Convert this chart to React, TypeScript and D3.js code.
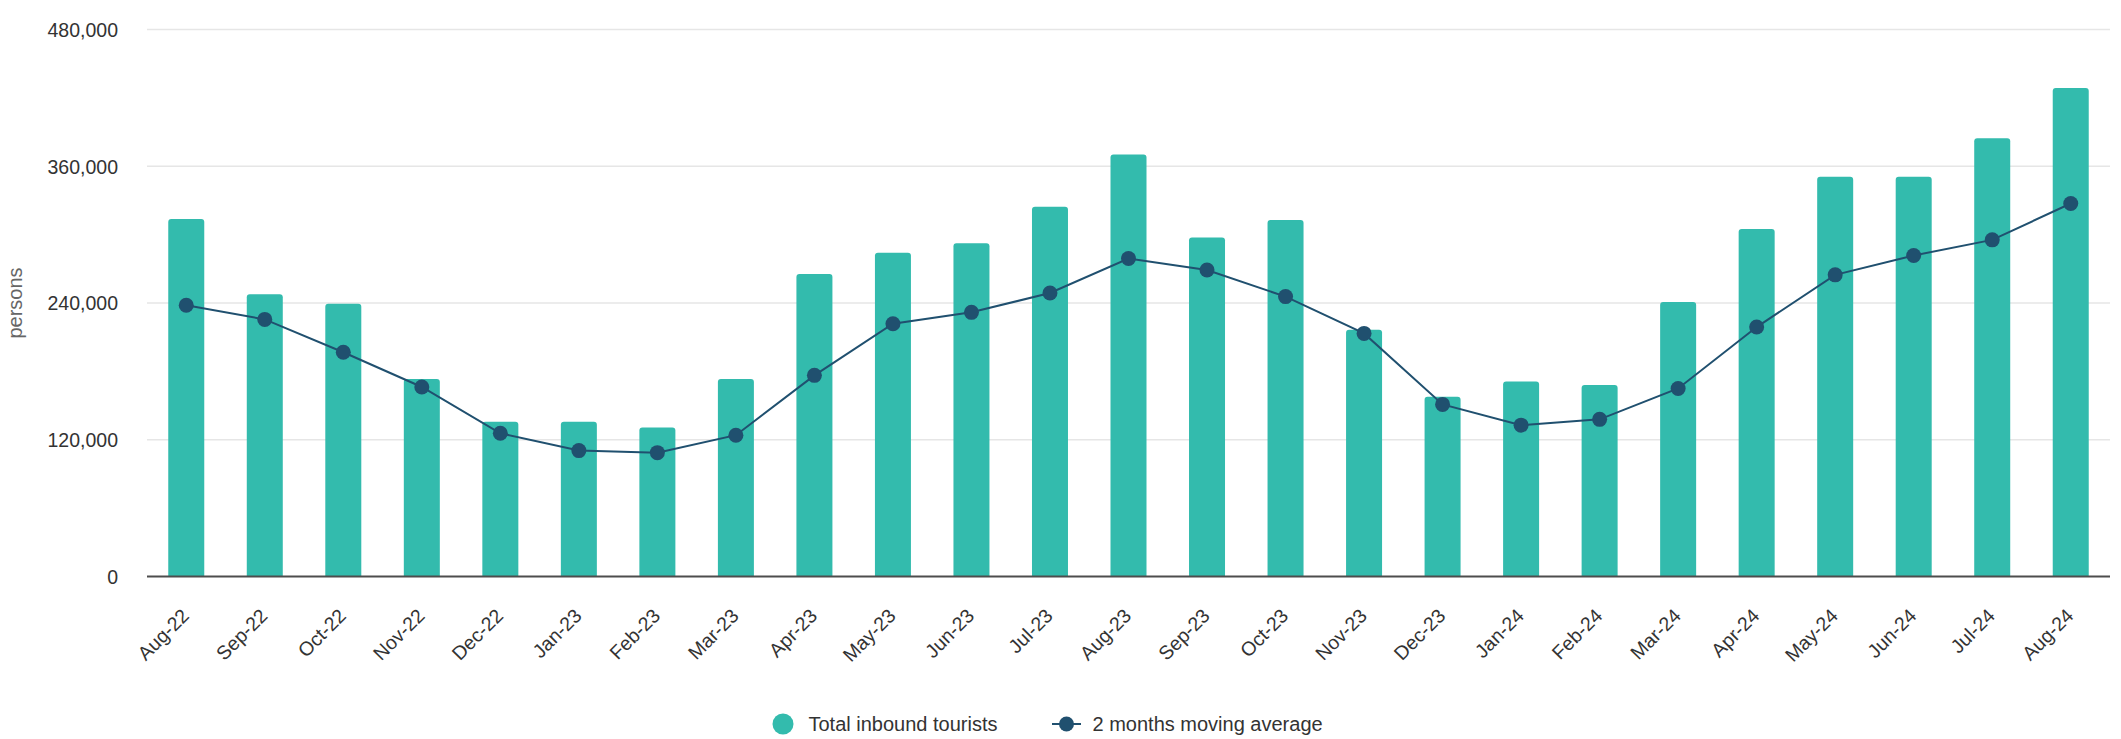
import React from "react";
import * as d3 from "d3";

const categories = [
  "Aug-22", "Sep-22", "Oct-22", "Nov-22", "Dec-22", "Jan-23", "Feb-23", "Mar-23",
  "Apr-23", "May-23", "Jun-23", "Jul-23", "Aug-23", "Sep-23", "Oct-23", "Nov-23",
  "Dec-23", "Jan-24", "Feb-24", "Mar-24", "Apr-24", "May-24", "Jun-24", "Jul-24", "Aug-24",
];

const totalInbound = [
  313700, 247600, 239400, 173300, 135700, 135700, 130700, 173300,
  265500, 284000, 292500, 324500, 370300, 297500, 312800, 216500,
  157800, 171200, 168000, 240900, 305000, 350800, 350800, 384500, 428700,
];

const movingAverage = [
  238000, 225600, 196800, 166300, 125700, 110500, 108700, 124000,
  176500, 221800, 231800, 248800, 279000, 269000, 245600, 213300,
  151000, 132800, 137900, 165000, 218900, 264700, 281700, 295400, 327300,
];

const yTicks = [0, 120000, 240000, 360000, 480000];

const seriesNames = ["Total inbound tourists", "2 months moving average"];

const W = 2121;
const H = 739;
const FONT = "'Liberation Sans', Arial, Helvetica, sans-serif";
const BAR = "#33bbad";
const LINE = "#20506f";

function topRoundedBar(x: number, y: number, w: number, h: number, r: number) {
  const rr = Math.min(r, h, w / 2);
  return `M${x},${y + h}V${y + rr}Q${x},${y} ${x + rr},${y}H${x + w - rr}Q${x + w},${y} ${x + w},${y + rr}V${y + h}Z`;
}

export default function App() {
  const left = 147;
  const right = 2110;
  const top = 29.5;
  const bottom = 576.5;

  const x = d3
    .scaleBand<string>()
    .domain(categories)
    .range([left, right])
    .paddingInner(0.5415)
    .paddingOuter(0.27075);
  const y = d3.scaleLinear().domain([0, 480000]).range([bottom, top]);
  const fmt = d3.format(",");
  const bw = x.bandwidth();
  const cx = (c: string) => (x(c) as number) + bw / 2;

  const line = d3
    .line<number>()
    .x((_, i) => cx(categories[i]))
    .y((d) => y(d));

  return (
    <div style={{ position: "absolute", left: 0, top: 0 }}>
      <svg width={W} height={H} style={{ display: "block", background: "#fff" }} fontFamily={FONT}>
        {yTicks.filter((t) => t !== 0).map((t) => (
          <line key={t} x1={left} x2={right} y1={y(t)} y2={y(t)} stroke="#e6e6e6" strokeWidth={1.6} />
        ))}
        {yTicks.map((t) => (
          <text key={t} x={118} y={y(t)} dy="0.38em" textAnchor="end" fontSize={19.5} fill="#333">
            {fmt(t)}
          </text>
        ))}
        <text
          transform={`translate(22,${(top + bottom) / 2}) rotate(-90)`}
          textAnchor="middle"
          fontSize={20}
          fill="#666"
        >
          persons
        </text>
        {totalInbound.map((v, i) => (
          <path
            key={categories[i]}
            d={topRoundedBar(x(categories[i]) as number, y(v), bw, bottom - y(v), 3)}
            fill={BAR}
          />
        ))}
        <line x1={left} x2={right} y1={bottom} y2={bottom} stroke="#4d4d4d" strokeWidth={2} />
        <path d={line(movingAverage) || ""} fill="none" stroke={LINE} strokeWidth={2} />
        {movingAverage.map((v, i) => (
          <circle key={categories[i]} cx={cx(categories[i])} cy={y(v)} r={7.5} fill={LINE} />
        ))}
        {categories.map((c) => (
          <text
            key={c}
            transform={`translate(${cx(c) + 4},${617}) rotate(-45)`}
            textAnchor="end"
            fontSize={19.5}
            fill="#333"
          >
            {c}
          </text>
        ))}
        <circle cx={783} cy={724} r={10.5} fill={BAR} />
        <text x={808.5} y={724} dy="0.36em" fontSize={20} fill="#333">
          {seriesNames[0]}
        </text>
        <line x1={1052} x2={1081} y1={724} y2={724} stroke={LINE} strokeWidth={2} />
        <circle cx={1066.5} cy={724} r={7.5} fill={LINE} />
        <text x={1092.5} y={724} dy="0.36em" fontSize={20} fill="#333">
          {seriesNames[1]}
        </text>
      </svg>
    </div>
  );
}
